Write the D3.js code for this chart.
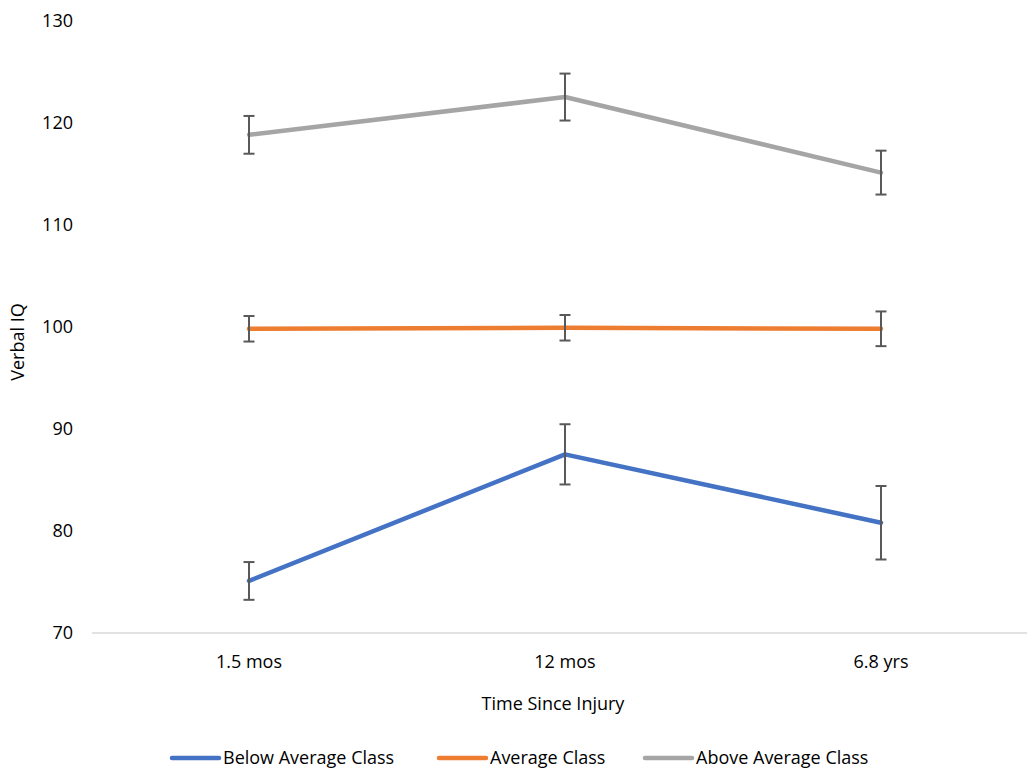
<!DOCTYPE html>
<html>
<head>
<meta charset="utf-8">
<script src="https://cdn.jsdelivr.net/npm/d3@7"></script>
<style>
  body { margin: 0; background: #fff; }
  text { font-family: "Open Sans", "Noto Sans", sans-serif; fill: #000; }
</style>
</head>
<body>
<svg id="chart" width="1027" height="771"></svg>
<script>
var categories = ["1.5 mos", "12 mos", "6.8 yrs"];
var seriesNames = ["Below Average Class", "Average Class", "Above Average Class"];
var seriesColors = ["#4472C4", "#ED7D31", "#A5A5A5"];
var belowValues = [75.1, 87.5, 80.8];
var belowErrors = [1.85, 2.95, 3.6];
var averageValues = [99.8, 99.9, 99.8];
var averageErrors = [1.25, 1.25, 1.7];
var aboveValues = [118.8, 122.5, 115.1];
var aboveErrors = [1.85, 2.3, 2.15];
var yTicks = [70, 80, 90, 100, 110, 120, 130];

var series = [
    { name: seriesNames[0], color: seriesColors[0], values: belowValues, errors: belowErrors },
    { name: seriesNames[1], color: seriesColors[1], values: averageValues, errors: averageErrors },
    { name: seriesNames[2], color: seriesColors[2], values: aboveValues, errors: aboveErrors }
];

var fontSize = "18px";
var svg = d3.select("#chart");

var x = d3.scalePoint()
    .domain(categories)
    .range([249, 881]);

var y = d3.scaleLinear()
    .domain([70, 130])
    .range([633, 20.5]);

// y axis labels (no axis line in the reference)
svg.append("g")
    .selectAll("text")
    .data(yTicks)
    .enter().append("text")
    .attr("x", 73)
    .attr("y", function (d) { return y(d); })
    .attr("dy", "0.35em")
    .attr("text-anchor", "end")
    .attr("font-size", fontSize)
    .text(function (d) { return d; });

// x axis baseline
svg.append("line")
    .attr("x1", 92)
    .attr("x2", 1027)
    .attr("y1", y(70))
    .attr("y2", y(70))
    .attr("stroke", "#d9d9d9")
    .attr("stroke-width", 1.3);

svg.append("g")
    .selectAll("text")
    .data(categories)
    .enter().append("text")
    .attr("x", function (d) { return x(d); })
    .attr("y", 668)
    .attr("text-anchor", "middle")
    .attr("font-size", fontSize)
    .text(function (d) { return d; });

svg.append("text")
    .attr("x", 553)
    .attr("y", 710)
    .attr("text-anchor", "middle")
    .attr("font-size", fontSize)
    .text("Time Since Injury");

svg.append("text")
    .attr("transform", "translate(24,342) rotate(-90)")
    .attr("text-anchor", "middle")
    .attr("font-size", fontSize)
    .text("Verbal IQ");

var line = d3.line()
    .x(function (d, i) { return x(categories[i]); })
    .y(function (d) { return y(d); });

series.forEach(function (s) {
    var g = svg.append("g");
    g.append("path")
        .attr("d", line(s.values))
        .attr("fill", "none")
        .attr("stroke", s.color)
        .attr("stroke-width", 4.5)
        .attr("stroke-linecap", "round")
        .attr("stroke-linejoin", "round");

    var bars = g.selectAll("g.err")
        .data(s.values)
        .enter().append("g")
        .attr("class", "err");
    bars.append("line")
        .attr("x1", function (d, i) { return x(categories[i]); })
        .attr("x2", function (d, i) { return x(categories[i]); })
        .attr("y1", function (d, i) { return y(d + s.errors[i]); })
        .attr("y2", function (d, i) { return y(d - s.errors[i]); })
        .attr("stroke", "#595959")
        .attr("stroke-width", 2);
    [1, -1].forEach(function (sign) {
        bars.append("line")
            .attr("x1", function (d, i) { return x(categories[i]) - 5.5; })
            .attr("x2", function (d, i) { return x(categories[i]) + 5.5; })
            .attr("y1", function (d, i) { return y(d + sign * s.errors[i]); })
            .attr("y2", function (d, i) { return y(d + sign * s.errors[i]); })
            .attr("stroke", "#595959")
            .attr("stroke-width", 2);
    });
});

// legend
var legendX = [172, 439, 645];
var legend = svg.append("g")
    .selectAll("g")
    .data(series)
    .enter().append("g")
    .attr("transform", function (d, i) { return "translate(" + legendX[i] + ",758)"; });
legend.append("line")
    .attr("x1", 0)
    .attr("x2", 47)
    .attr("stroke", function (d) { return d.color; })
    .attr("stroke-width", 4.5)
    .attr("stroke-linecap", "round");
legend.append("text")
    .attr("x", 51)
    .attr("dy", "0.35em")
    .attr("font-size", fontSize)
    .text(function (d) { return d.name; });
</script>
</body>
</html>
